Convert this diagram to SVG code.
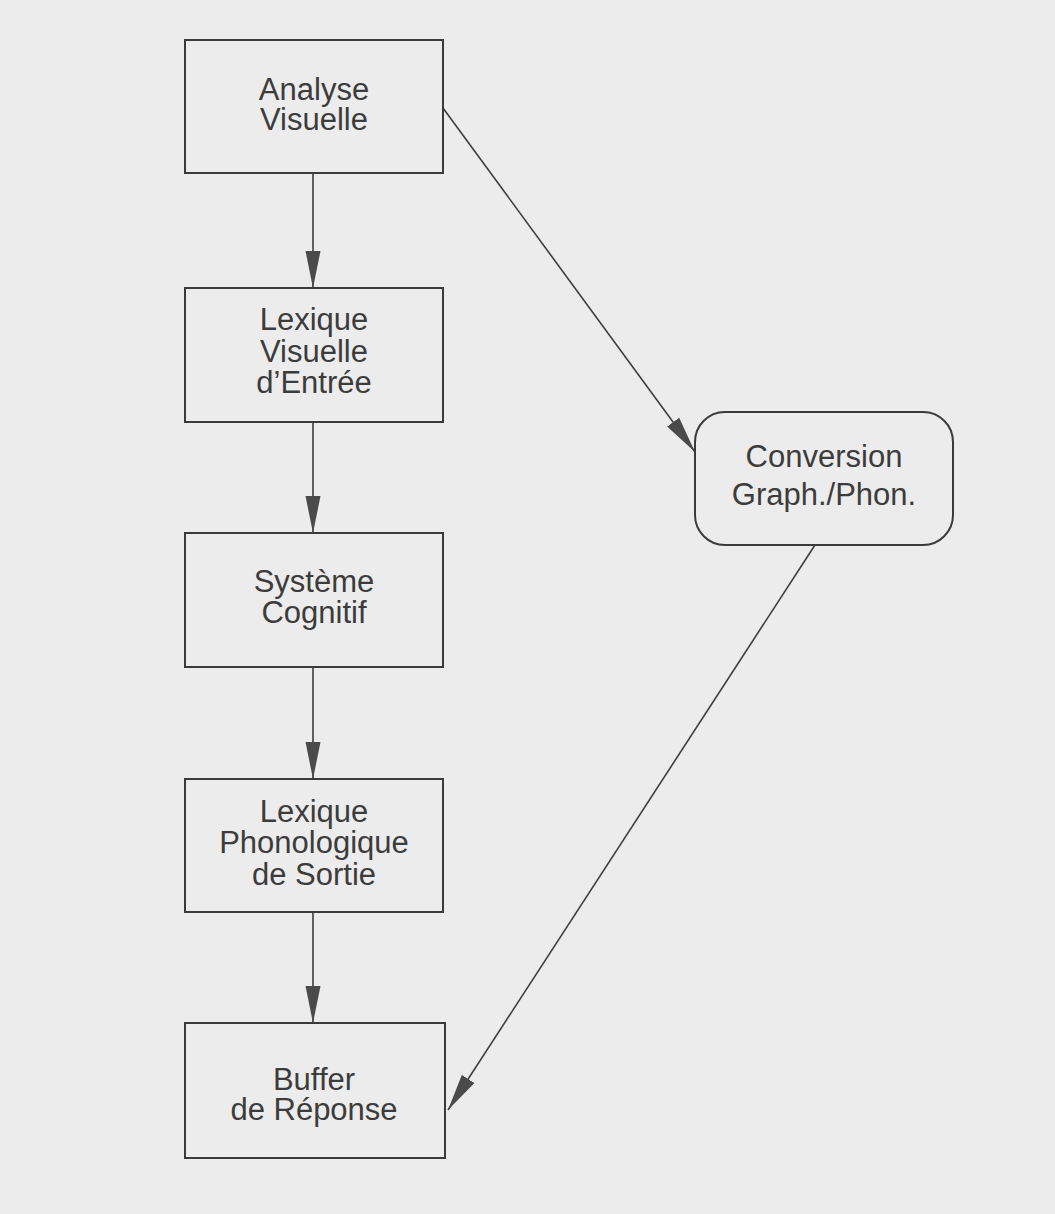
<svg xmlns="http://www.w3.org/2000/svg" width="1055" height="1214" viewBox="0 0 1055 1214">
<defs>
<marker id="ah" markerUnits="userSpaceOnUse" markerWidth="38" markerHeight="16" refX="37" refY="8" orient="auto">
<path d="M0,0.5 L37,8 L0,15.5 z" fill="#4a4a4a"/>
</marker>
<style>
.box{fill:none;stroke:#3a3a3a;stroke-width:2}
.lbl{font-family:"Liberation Sans",Arial,sans-serif;font-size:31px;fill:#3c3c3c;text-anchor:middle}
.con{stroke:#3e3e3e;stroke-width:1.6;fill:none;marker-end:url(#ah)}
</style>
</defs>
<rect x="0" y="0" width="1055" height="1214" fill="#ececec"/>
<g id="connectors">
<line class="con" x1="313" y1="173" x2="313" y2="288"/>
<line class="con" x1="313" y1="422" x2="313" y2="533"/>
<line class="con" x1="313" y1="667" x2="313" y2="779"/>
<line class="con" x1="313" y1="912" x2="313" y2="1023"/>
<line class="con" x1="443" y1="108" x2="695" y2="452"/>
<line class="con" x1="815" y1="545" x2="448" y2="1110"/>
</g>
<g id="analyse-visuelle">
<rect class="box" x="185" y="40" width="258" height="133"/>
<text class="lbl" x="314" y="100">Analyse</text>
<text class="lbl" x="314" y="130">Visuelle</text>
</g>
<g id="lexique-visuelle-entree">
<rect class="box" x="185" y="288" width="258" height="134"/>
<text class="lbl" x="314" y="330">Lexique</text>
<text class="lbl" x="314" y="362">Visuelle</text>
<text class="lbl" x="314" y="393">d’Entrée</text>
</g>
<g id="systeme-cognitif">
<rect class="box" x="185" y="533" width="258" height="134"/>
<text class="lbl" x="314" y="592">Système</text>
<text class="lbl" x="314" y="623">Cognitif</text>
</g>
<g id="lexique-phonologique-sortie">
<rect class="box" x="185" y="779" width="258" height="133"/>
<text class="lbl" x="314" y="822">Lexique</text>
<text class="lbl" x="314" y="853">Phonologique</text>
<text class="lbl" x="314" y="885">de Sortie</text>
</g>
<g id="buffer-reponse">
<rect class="box" x="185" y="1023" width="260" height="135"/>
<text class="lbl" x="314" y="1090">Buffer</text>
<text class="lbl" x="314" y="1120">de Réponse</text>
</g>
<g id="conversion">
<rect class="box" x="695" y="412" width="258" height="133" rx="30" ry="30"/>
<text class="lbl" x="824" y="467">Conversion</text>
<text class="lbl" x="824" y="505">Graph./Phon.</text>
</g>
</svg>
